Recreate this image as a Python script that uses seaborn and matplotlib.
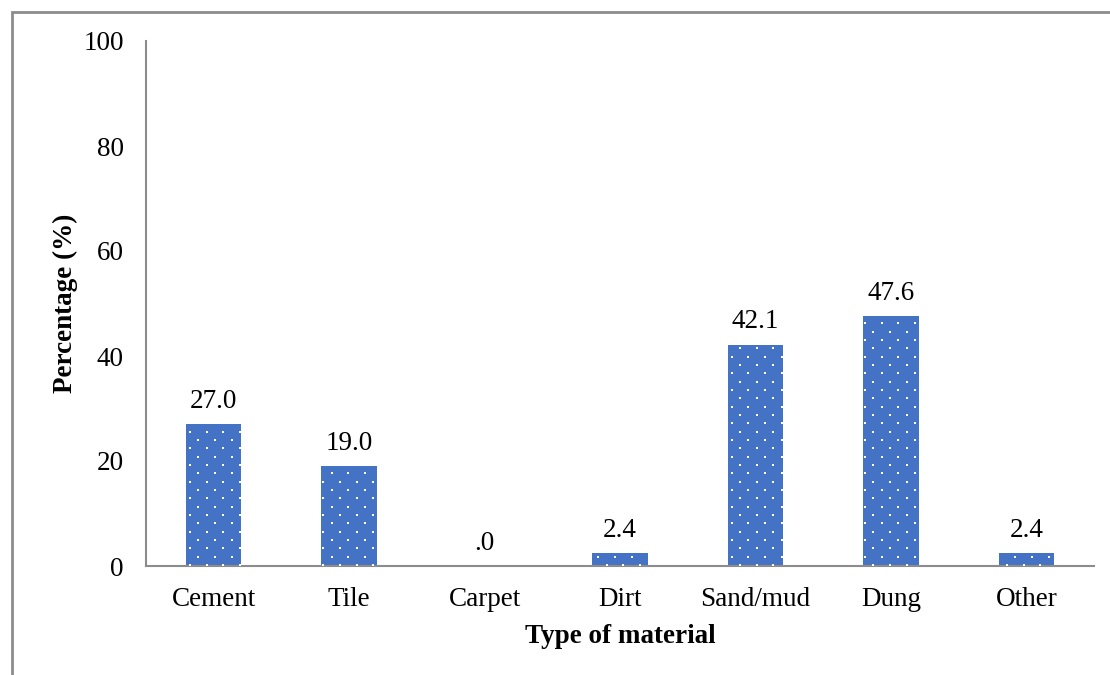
import matplotlib
matplotlib.use("Agg")
import matplotlib.pyplot as plt
import seaborn as sns
import pandas as pd
import numpy as np
from matplotlib.patches import Rectangle
from matplotlib.transforms import IdentityTransform

categories = ["Cement", "Tile", "Carpet", "Dirt", "Sand/mud", "Dung", "Other"]
percentages = [27.0, 19.0, 0.0, 2.4, 42.1, 47.6, 2.4]
value_labels = ["27.0", "19.0", ".0", "2.4", "42.1", "47.6", "2.4"]
y_ticks = [0, 20, 40, 60, 80, 100]

sns.set_theme(style="white")
plt.rcParams["font.family"] = ["Liberation Serif", "DejaVu Serif"]
plt.rcParams["text.color"] = "black"
plt.rcParams["axes.labelcolor"] = "black"
plt.rcParams["xtick.color"] = "black"
plt.rcParams["ytick.color"] = "black"

FS = 19.5
BAR_COLOR = "#4472C4"
GREY = "#8c8c8c"

df = pd.DataFrame({"material": categories, "pct": percentages})

W, H = 1110, 675
fig = plt.figure(figsize=(W / 100, H / 100), dpi=100)
ax = fig.add_axes([146 / W, 1 - 566 / H, (1094 - 146) / W, (566 - 41) / H])

sns.barplot(data=df, x="material", y="pct", color=BAR_COLOR, width=0.41,
            saturation=1, ax=ax, linewidth=0)

ax.set_ylim(0, 100)
ax.set_xlim(-0.5, len(categories) - 0.5)

# dotted pattern fill: small white squares on a staggered pixel grid
px_x, px_y = 16.67, 8.33
x0, y0 = 190.0, 431.7  # grid anchor, pixels from the top-left corner
dots_x, dots_y = [], []
for p in ax.patches:
    bb = p.get_window_extent()
    top_px, bot_px = H - bb.y1, H - bb.y0
    r0 = int(np.ceil((top_px + 1 - y0) / px_y))
    r1 = int(np.floor((bot_px - 1 - y0) / px_y))
    for r in range(r0, r1 + 1):
        yy = y0 + r * px_y
        shift = 0.0 if r % 2 == 0 else px_x / 2
        k0 = int(np.ceil((bb.x0 + 1 - x0 - shift) / px_x))
        k1 = int(np.floor((bb.x1 - 1 - x0 - shift) / px_x))
        for k in range(k0, k1 + 1):
            dots_x.append(x0 + shift + k * px_x)
            dots_y.append(H - yy)
ax.scatter(dots_x, dots_y, s=3.2, marker="s", color="white", linewidths=0,
           transform=IdentityTransform(), zorder=3, clip_on=False)

for i, (v, lab) in enumerate(zip(percentages, value_labels)):
    ax.text(i, v + 2.0, lab, ha="center", va="bottom", fontsize=FS, color="black")

ax.set_yticks(y_ticks)
ax.set_yticklabels([str(t) for t in y_ticks], fontsize=FS)
ax.set_xticks(range(len(categories)))
ax.set_xticklabels(categories, fontsize=FS)

# tick marks sit between categories on the x axis
ax.set_xticks([i - 0.5 for i in range(len(categories) + 1)], minor=True)
ax.tick_params(axis="x", which="major", length=0, pad=15, labelcolor="black")
ax.tick_params(axis="x", which="minor", length=7, width=1.5, color=GREY, direction="out")
ax.tick_params(axis="y", which="major", length=7, width=1.5, color=GREY,
               direction="out", pad=9, labelcolor="black")

for side in ["top", "right"]:
    ax.spines[side].set_visible(False)
for side in ["left", "bottom"]:
    ax.spines[side].set_color(GREY)
    ax.spines[side].set_linewidth(1.5)

ax.set_xlabel("Type of material", fontsize=FS, fontweight="bold", labelpad=9)
ax.set_ylabel("Percentage (%)", fontsize=FS, fontweight="bold", labelpad=4)

# chart frame (top and left edges show within the canvas)
fig.patches.append(Rectangle((12 / W, -0.05), 1.1, 1 - 12 / H + 0.05,
                             transform=fig.transFigure, fill=False,
                             edgecolor=GREY, linewidth=2))

fig.savefig("out.png", dpi=100)
